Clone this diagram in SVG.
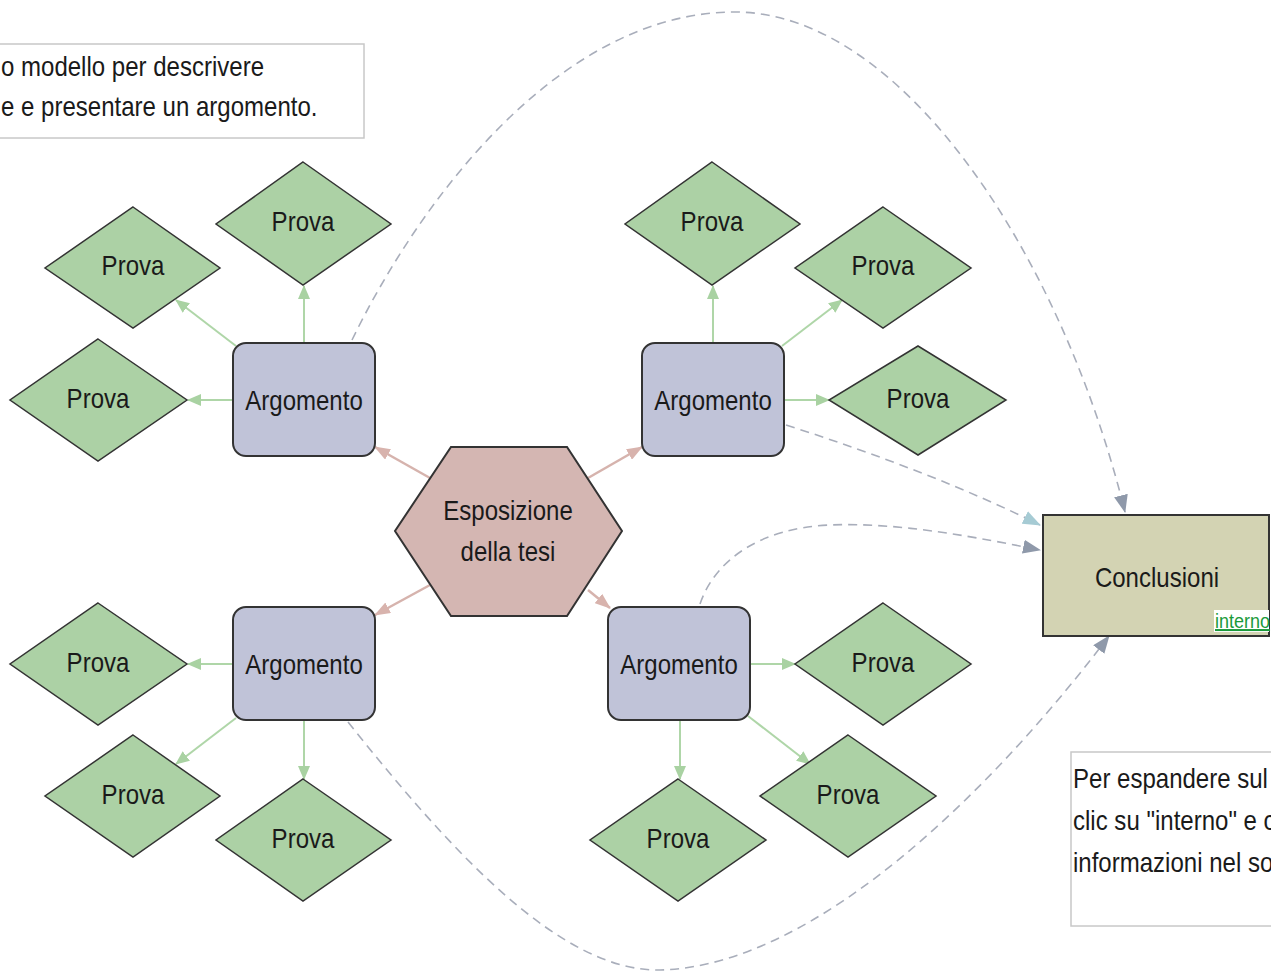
<svg xmlns="http://www.w3.org/2000/svg" width="1271" height="974" viewBox="0 0 1271 974">
<defs>
<style>
text{font-family:"Liberation Sans",Arial,sans-serif;font-size:27px;fill:#1a1a1a}
.c{text-anchor:middle}
.prova polygon{fill:#acd1a5;stroke:#333;stroke-width:1.5}
.arg rect{fill:#c0c3d8;stroke:#333;stroke-width:2}
.g{stroke:#afd6a8;stroke-width:2;fill:none;marker-end:url(#ag)}
.p{stroke:#d6b3ad;stroke-width:2.5;fill:none;marker-end:url(#ap)}
.d{stroke:#a9aebb;stroke-width:1.6;fill:none;stroke-dasharray:9 6;marker-end:url(#ad)}
.note{fill:#fff;stroke:#c8c8c8;stroke-width:1.5}
</style>
<marker id="ag" viewBox="0 0 14 12" refX="13" refY="6" markerWidth="14" markerHeight="12" markerUnits="userSpaceOnUse" orient="auto"><path d="M0,0 L14,6 L0,12 Z" fill="#a9d2a2"/></marker>
<marker id="ap" viewBox="0 0 16 12" refX="15" refY="6" markerWidth="16" markerHeight="12" markerUnits="userSpaceOnUse" orient="auto"><path d="M0,0 L16,6 L0,12 Z" fill="#d8b3ad"/></marker>
<marker id="ad" viewBox="0 0 18 14" refX="17" refY="7" markerWidth="18" markerHeight="14" markerUnits="userSpaceOnUse" orient="auto"><path d="M0,0 L18,7 L0,14 Z" fill="#8f99aa"/></marker>
<marker id="adt" viewBox="0 0 18 14" refX="17" refY="7" markerWidth="18" markerHeight="14" markerUnits="userSpaceOnUse" orient="auto"><path d="M0,0 L18,7 L0,14 Z" fill="#a6cbd4"/></marker>
</defs>
<rect x="0" y="0" width="1271" height="974" fill="#fff"/>

<g id="note-top">
<rect class="note" x="-5" y="44" width="369" height="94"/>
<text transform="translate(1,76) scale(0.89,1)">o modello per descrivere</text>
<text transform="translate(1,116) scale(0.89,1)">e e presentare un argomento.</text>
</g>

<g id="note-bottom">
<rect class="note" x="1071" y="752" width="215" height="174"/>
<text transform="translate(1073,788) scale(0.89,1)">Per espandere sul</text>
<text transform="translate(1073,830) scale(0.89,1)">clic su "interno" e c</text>
<text transform="translate(1073,872) scale(0.89,1)">informazioni nel so</text>
</g>

<g id="connectors">
<path class="d" d="M352,340 C420,200 560,12 735,12 C900,12 1060,250 1125,512"/>
<path class="d" style="marker-end:url(#adt)" d="M786,425 C880,455 970,490 1040,525"/>
<path class="d" d="M700,604 C715,560 760,528 830,525 C900,522 980,538 1040,550"/>
<path class="d" d="M348,722 C450,850 560,972 660,970 C820,966 1000,780 1109,636"/>

<path class="g" d="M233,400 L188,400"/>
<path class="g" d="M304,343 L304,286"/>
<path class="g" d="M236,346 L176,300"/>
<path class="g" d="M713,343 L713,286"/>
<path class="g" d="M782,346 L842,300"/>
<path class="g" d="M784,400 L829,400"/>
<path class="g" d="M233,664 L188,664"/>
<path class="g" d="M236,718 L176,764"/>
<path class="g" d="M304,720 L304,779"/>
<path class="g" d="M750,664 L795,664"/>
<path class="g" d="M748,716 L810,764"/>
<path class="g" d="M680,720 L680,779"/>

<path class="p" d="M430,478 L375,447"/>
<path class="p" d="M588,478 L642,447"/>
<path class="p" d="M430,585 L375,615"/>
<path class="p" d="M588,590 L610,608"/>
</g>

<g id="tesi">
<polygon points="451,447 567,447 622,531 567,616 451,616 395,531" fill="#d4b6b2" stroke="#333" stroke-width="2"/>
<text class="c" transform="translate(508,520) scale(0.89,1)">Esposizione</text>
<text class="c" transform="translate(508,561) scale(0.89,1)">della tesi</text>
</g>

<g id="arg-tl" class="arg"><rect x="233" y="343" width="142" height="113" rx="13"/><text class="c" transform="translate(304,410) scale(0.89,1)">Argomento</text></g>
<g id="arg-tr" class="arg"><rect x="642" y="343" width="142" height="113" rx="13"/><text class="c" transform="translate(713,410) scale(0.89,1)">Argomento</text></g>
<g id="arg-bl" class="arg"><rect x="233" y="607" width="142" height="113" rx="13"/><text class="c" transform="translate(304,674) scale(0.89,1)">Argomento</text></g>
<g id="arg-br" class="arg"><rect x="608" y="607" width="142" height="113" rx="13"/><text class="c" transform="translate(679,674) scale(0.89,1)">Argomento</text></g>

<g id="prova1" class="prova"><polygon points="303,162 391,224 303,285 216,224"/><text class="c" transform="translate(303,231) scale(0.89,1)">Prova</text></g>
<g id="prova2" class="prova"><polygon points="133,207 220,268 133,328 45,268"/><text class="c" transform="translate(133,275) scale(0.89,1)">Prova</text></g>
<g id="prova3" class="prova"><polygon points="98,339 187,400 98,461 10,400"/><text class="c" transform="translate(98,408) scale(0.89,1)">Prova</text></g>
<g id="prova4" class="prova"><polygon points="712,162 800,224 712,285 625,224"/><text class="c" transform="translate(712,231) scale(0.89,1)">Prova</text></g>
<g id="prova5" class="prova"><polygon points="883,207 971,268 883,328 795,268"/><text class="c" transform="translate(883,275) scale(0.89,1)">Prova</text></g>
<g id="prova6" class="prova"><polygon points="918,346 1006,400 918,455 829,400"/><text class="c" transform="translate(918,408) scale(0.89,1)">Prova</text></g>
<g id="prova7" class="prova"><polygon points="98,603 187,664 98,725 10,664"/><text class="c" transform="translate(98,672) scale(0.89,1)">Prova</text></g>
<g id="prova8" class="prova"><polygon points="133,735 220,796 133,857 45,796"/><text class="c" transform="translate(133,804) scale(0.89,1)">Prova</text></g>
<g id="prova9" class="prova"><polygon points="303,779 391,840 303,901 216,840"/><text class="c" transform="translate(303,848) scale(0.89,1)">Prova</text></g>
<g id="prova10" class="prova"><polygon points="883,603 971,664 883,725 795,664"/><text class="c" transform="translate(883,672) scale(0.89,1)">Prova</text></g>
<g id="prova11" class="prova"><polygon points="848,735 936,796 848,857 760,796"/><text class="c" transform="translate(848,804) scale(0.89,1)">Prova</text></g>
<g id="prova12" class="prova"><polygon points="678,779 766,840 678,901 590,840"/><text class="c" transform="translate(678,848) scale(0.89,1)">Prova</text></g>

<g id="conclusioni">
<rect x="1043" y="515" width="226" height="121" fill="#d3d3b3" stroke="#333" stroke-width="2"/>
<text class="c" transform="translate(1157,587) scale(0.89,1)">Conclusioni</text>
<rect x="1214" y="610" width="55" height="22" fill="#fff"/>
<text transform="translate(1215,628) scale(0.9,1)" style="font-size:20px;fill:#1a9a3a;text-decoration:underline">interno</text>
</g>
</svg>
